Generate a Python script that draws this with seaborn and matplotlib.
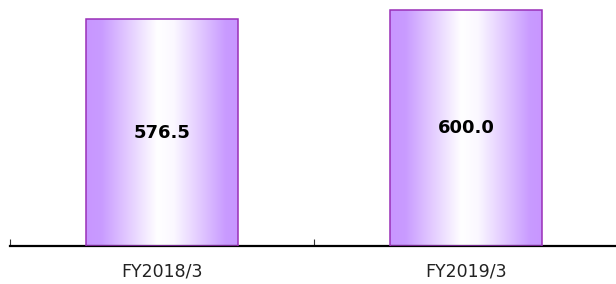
import numpy as np
import pandas as pd
import matplotlib
matplotlib.use("Agg")
import matplotlib.pyplot as plt
import seaborn as sns
from matplotlib.colors import LinearSegmentedColormap

categories = ["FY2018/3", "FY2019/3"]
values = [576.5, 600.0]
value_labels = ["576.5", "600.0"]

sns.set_theme(style="white")
plt.rcParams['font.family'] = ['DejaVu Sans']

df = pd.DataFrame({"cat": categories, "val": values})

fig = plt.figure(figsize=(6.16, 2.84), dpi=100)
ax = fig.add_axes([10/616, 38/284, 608/616, 246/284])

sns.barplot(data=df, x="cat", y="val", ax=ax, width=0.5,
            color="#c896ff", edgecolor="#9a2fb8", linewidth=1.1)

cmap = LinearSegmentedColormap.from_list(
    "grad", [(0.0, "#c896ff"), (0.1, "#c99bff"), (0.47, "#ffffff"),
             (0.58, "#fbf8ff"), (0.92, "#c99bff"), (1.0, "#c896ff")])
grad = np.linspace(0, 1, 256).reshape(1, -1)
for p in ax.patches:
    x, y = p.get_x(), p.get_y()
    w, h = p.get_width(), p.get_height()
    p.set_facecolor("none")
    p.set_zorder(3)
    im = ax.imshow(grad, extent=[x, x + w, y, y + h], aspect="auto",
                   cmap=cmap, zorder=2, interpolation="bilinear")
    im.set_clip_path(p)

for i, (v, lab) in enumerate(zip(values, value_labels)):
    ax.text(i, v / 2, lab, ha="center", va="center", fontsize=13,
            fontweight="bold", color="black", zorder=4)

ax.set_xlim(-0.5, 1.5)
ax.set_ylim(0, 625)
for s in ["top", "right", "left"]:
    ax.spines[s].set_visible(False)
ax.spines["bottom"].set_color("black")
ax.spines["bottom"].set_linewidth(1.6)
ax.set_yticks([])
ax.set_xlabel("")
ax.set_ylabel("")
ax.set_xticks([0, 1])
ax.set_xticklabels(categories, fontsize=12.5, color="#222222")
ax.tick_params(axis="x", which="major", length=0, pad=12)
ax.set_xticks([-0.5, 0.5, 1.5], minor=True)
ax.tick_params(axis="x", which="minor", direction="in", length=5,
               width=0.8, color="#333333", bottom=True)
ax.patch.set_alpha(0)

fig.savefig("out.png", dpi=100)
